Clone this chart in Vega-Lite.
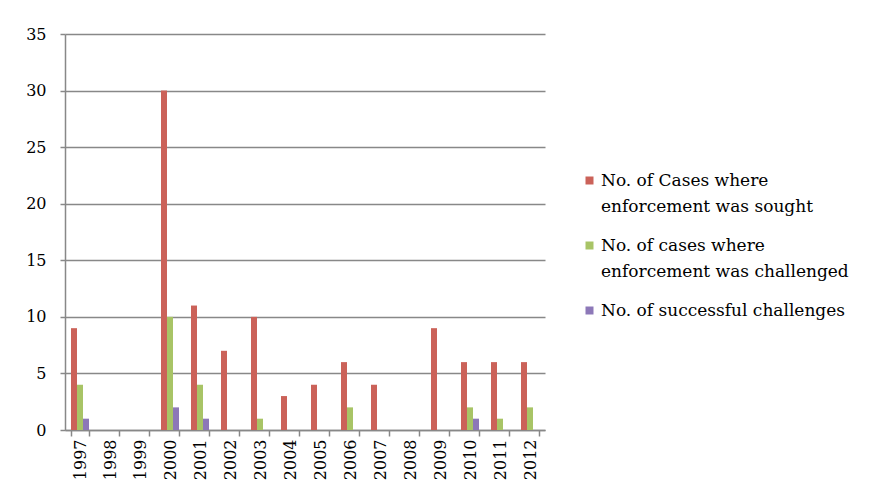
{
  "$schema": "https://vega.github.io/schema/vega-lite/v6.json",
  "autosize": "none",
  "width": 480,
  "height": 396,
  "padding": {"left": 65, "top": 34, "right": 331, "bottom": 72},
  "background": "white",
  "data": {
    "values": [
      {"year": "1997", "series": "No. of Cases where|enforcement was sought", "value": 9},
      {"year": "1997", "series": "No. of cases where|enforcement was challenged", "value": 4},
      {"year": "1997", "series": "No. of successful challenges", "value": 1},
      {"year": "1998", "series": "No. of Cases where|enforcement was sought", "value": 0},
      {"year": "1998", "series": "No. of cases where|enforcement was challenged", "value": 0},
      {"year": "1998", "series": "No. of successful challenges", "value": 0},
      {"year": "1999", "series": "No. of Cases where|enforcement was sought", "value": 0},
      {"year": "1999", "series": "No. of cases where|enforcement was challenged", "value": 0},
      {"year": "1999", "series": "No. of successful challenges", "value": 0},
      {"year": "2000", "series": "No. of Cases where|enforcement was sought", "value": 30},
      {"year": "2000", "series": "No. of cases where|enforcement was challenged", "value": 10},
      {"year": "2000", "series": "No. of successful challenges", "value": 2},
      {"year": "2001", "series": "No. of Cases where|enforcement was sought", "value": 11},
      {"year": "2001", "series": "No. of cases where|enforcement was challenged", "value": 4},
      {"year": "2001", "series": "No. of successful challenges", "value": 1},
      {"year": "2002", "series": "No. of Cases where|enforcement was sought", "value": 7},
      {"year": "2002", "series": "No. of cases where|enforcement was challenged", "value": 0},
      {"year": "2002", "series": "No. of successful challenges", "value": 0},
      {"year": "2003", "series": "No. of Cases where|enforcement was sought", "value": 10},
      {"year": "2003", "series": "No. of cases where|enforcement was challenged", "value": 1},
      {"year": "2003", "series": "No. of successful challenges", "value": 0},
      {"year": "2004", "series": "No. of Cases where|enforcement was sought", "value": 3},
      {"year": "2004", "series": "No. of cases where|enforcement was challenged", "value": 0},
      {"year": "2004", "series": "No. of successful challenges", "value": 0},
      {"year": "2005", "series": "No. of Cases where|enforcement was sought", "value": 4},
      {"year": "2005", "series": "No. of cases where|enforcement was challenged", "value": 0},
      {"year": "2005", "series": "No. of successful challenges", "value": 0},
      {"year": "2006", "series": "No. of Cases where|enforcement was sought", "value": 6},
      {"year": "2006", "series": "No. of cases where|enforcement was challenged", "value": 2},
      {"year": "2006", "series": "No. of successful challenges", "value": 0},
      {"year": "2007", "series": "No. of Cases where|enforcement was sought", "value": 4},
      {"year": "2007", "series": "No. of cases where|enforcement was challenged", "value": 0},
      {"year": "2007", "series": "No. of successful challenges", "value": 0},
      {"year": "2008", "series": "No. of Cases where|enforcement was sought", "value": 0},
      {"year": "2008", "series": "No. of cases where|enforcement was challenged", "value": 0},
      {"year": "2008", "series": "No. of successful challenges", "value": 0},
      {"year": "2009", "series": "No. of Cases where|enforcement was sought", "value": 9},
      {"year": "2009", "series": "No. of cases where|enforcement was challenged", "value": 0},
      {"year": "2009", "series": "No. of successful challenges", "value": 0},
      {"year": "2010", "series": "No. of Cases where|enforcement was sought", "value": 6},
      {"year": "2010", "series": "No. of cases where|enforcement was challenged", "value": 2},
      {"year": "2010", "series": "No. of successful challenges", "value": 1},
      {"year": "2011", "series": "No. of Cases where|enforcement was sought", "value": 6},
      {"year": "2011", "series": "No. of cases where|enforcement was challenged", "value": 1},
      {"year": "2011", "series": "No. of successful challenges", "value": 0},
      {"year": "2012", "series": "No. of Cases where|enforcement was sought", "value": 6},
      {"year": "2012", "series": "No. of cases where|enforcement was challenged", "value": 2},
      {"year": "2012", "series": "No. of successful challenges", "value": 0}
    ]
  },
  "mark": {"type": "bar"},
  "encoding": {
    "x": {
      "field": "year", "type": "nominal",
      "scale": {"paddingInner": 0.4, "paddingOuter": 0.2},
      "axis": {
        "title": null, "labelAngle": -90, "labelAlign": "right", "labelBaseline": "middle",
        "labelFont": "DejaVu Serif", "labelFontSize": 16, "labelColor": "#000",
        "tickBand": "extent", "tickSize": 6, "tickColor": "#888", "tickWidth": 1.5,
        "domainColor": "#888", "domainWidth": 1.5, "labelPadding": 3
      }
    },
    "xOffset": {"field": "series", "type": "nominal", "sort": null},
    "y": {
      "field": "value", "type": "quantitative",
      "scale": {"domain": [0, 35], "nice": false},
      "axis": {
        "title": null, "values": [0, 5, 10, 15, 20, 25, 30, 35],
        "labelFont": "DejaVu Serif", "labelFontSize": 16, "labelColor": "#000",
        "tickSize": 5, "tickColor": "#888", "tickWidth": 1.5, "labelPadding": 14,
        "domainColor": "#888", "domainWidth": 1.5,
        "grid": true, "gridColor": "#888", "gridWidth": 1.5
      }
    },
    "color": {
      "field": "series", "type": "nominal", "sort": null,
      "scale": {"range": ["#CB6259", "#A8C466", "#8D78B8"]},
      "legend": {
        "title": null, "orient": "none", "legendX": 516, "legendY": 138,
        "labelExpr": "split(datum.label, '|')",
        "labelFont": "DejaVu Serif", "labelFontSize": 17, "labelColor": "#000",
        "labelLimit": 400, "symbolType": "square", "symbolSize": 64, "symbolStrokeWidth": 0,
        "rowPadding": 21, "labelOffset": 3,
        "labelBaseline": "top",
        "encode": {"labels": {"update": {"lineHeight": {"value": 26}, "dy": {"value": -8}}}}
      }
    }
  },
  "config": {"view": {"stroke": null}}
}
